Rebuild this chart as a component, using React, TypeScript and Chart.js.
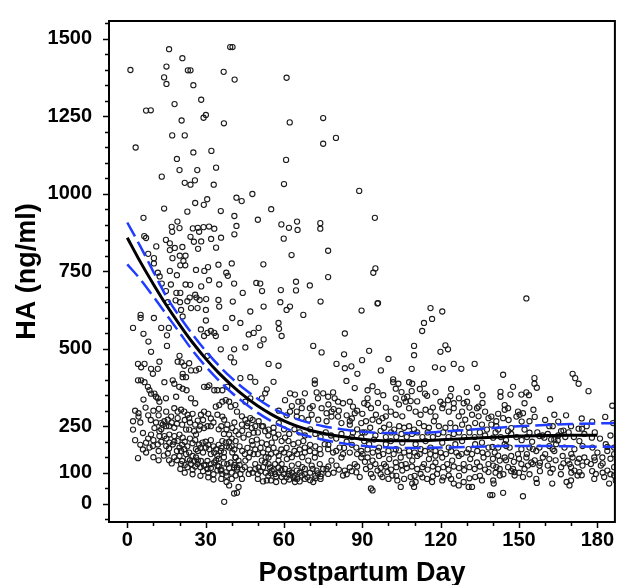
import { useEffect, useRef } from 'react';
import { Chart, registerables } from 'chart.js';

Chart.register(...registerables);

// ---- axis ticks ----
const xTickValues = [0, 30, 60, 90, 120, 150, 180];
const yTickValues = [0, 100, 250, 500, 750, 1000, 1250, 1500];
const xMinorStep = 10;
const yMinorStep = 50;

// ---- fitted curve (ng/ml by postpartum day) ----
const fitDays = [0, 5, 10, 15, 20, 25, 30, 35, 40, 45, 50, 55, 60, 65, 70, 75, 80, 90, 100, 110, 120, 130, 140, 150, 160, 170, 180];
const fitHA = [858, 780, 708, 640, 578, 520, 468, 422, 382, 346, 315, 289, 267, 250, 237, 227, 219, 208, 203, 203, 206, 210, 214, 218, 220, 221, 221];

// ---- confidence band ----
const bandDays = [0, 5, 10, 15, 20, 25, 30, 35, 40, 45, 50, 55, 60, 65, 70, 75, 80, 90, 100, 110, 120, 130, 140, 150, 160, 170, 180, 187];
const bandUpper = [907, 830, 748, 668, 604, 546, 493, 446, 405, 369, 338, 311, 290, 273, 260, 250, 243, 232, 228, 228, 232, 238, 244, 250, 254, 257, 259, 260];
const bandLower = [772, 724, 668, 610, 552, 494, 443, 398, 358, 324, 293, 267, 246, 229, 216, 206, 198, 187, 181, 180, 181, 183, 185, 186, 186, 185, 184, 183];

// ---- observations [day, HA] ----
const obsHigh: number[][] = [
  [1.2, 1399], [3.2, 1149], [6.2, 922], [7.2, 1268], [9, 1269], [6.5, 863], [7.2, 857], [8, 806], [10.2, 792], [10.2, 775],
  [11.1, 830], [11.7, 745], [12.4, 733], [13.2, 1055], [14.1, 952], [14.1, 1375], [15, 1410], [15, 1354], [16, 1466], [16.3, 751],
  [16.7, 707], [17, 893], [17.2, 877], [17.3, 792], [18.1, 1289], [17.2, 1188], [18.2, 825], [19, 1112], [19.2, 910], [20, 1076],
  [20, 889], [20.8, 1236], [21.1, 1437], [21.1, 828], [21.5, 783], [22, 1188], [22, 1035], [23.2, 1398], [24.2, 1398], [23, 942],
  [24.2, 1029], [24.2, 861], [25.3, 1350], [25.3, 1133], [25.9, 1043], [26, 970], [26.8, 1076], [27.1, 822], [27.5, 877], [28.3, 1303],
  [29.2, 1245], [30.1, 1254], [29.3, 964], [30.6, 982], [29.2, 892], [31.3, 894], [32.2, 1138], [33.1, 1029], [33.3, 887], [34, 1084],
  [32.1, 854], [35.8, 944], [36.9, 1393], [37, 1227], [39.4, 1473], [40.3, 1473], [41.1, 1368], [41.8, 987], [43.8, 976], [41.8, 896],
  [41, 928], [47.9, 999], [50, 916], [55.1, 950], [60, 1031], [61, 1374], [60.8, 1109], [62.2, 1230], [59, 901], [59.9, 855],
  [61.9, 890], [65, 910], [65.2, 883], [62.9, 802], [73.9, 905], [73.9, 887], [75, 1244], [75, 1161], [76.9, 816], [79.9, 1180],
  [88.8, 1009], [94.8, 922], [94.2, 745], [95, 759], [96, 647], [152.8, 662], [58.8, 689], [50.9, 710], [51.6, 686], [52.1, 772],
  [44.2, 680], [40.9, 710], [40, 775], [37.9, 745], [38.5, 735], [34.9, 771], [35.2, 707], [29.5, 751], [30.9, 763], [31.3, 721],
  [26.3, 754], [26.5, 665], [26, 674], [23.9, 665], [24.1, 706], [22.3, 707], [20.3, 769], [22.2, 769], [19, 737], [18.8, 680],
  [20.3, 680], [18.5, 656], [20.2, 650], [23, 653], [16.3, 840], [16.3, 818], [14.8, 851], [13.2, 710], [14.8, 686], [15.5, 650],
  [69.9, 704], [76.9, 731], [64.6, 716], [64.6, 688], [58.6, 650], [49.4, 712], [25.1, 888], [27, 890], [25.5, 845], [28.3, 846],
  [20.1, 800], [22.3, 800], [35.9, 858], [34, 826], [41, 869], [28.3, 701], [27.7, 657], [30.2, 660], [34.9, 657], [40.4, 652],
  [74, 652], [89.7, 623], [89.9, 463], [83.9, 396], [87.1, 373], [93.9, 379],
];

const obsDays0to42: number[][] = [
  [5.1, 609], [5.1, 599], [2.2, 567], [10.2, 599], [13, 567], [15.9, 567], [6.2, 548], [8.1, 523], [9.1, 490], [15.2, 543],
  [15.2, 509], [20.6, 625], [21.2, 604], [24.4, 631], [26.9, 631], [30.1, 625], [30.1, 591], [35.2, 636], [37.7, 567], [40.2, 599],
  [29.4, 541], [30.7, 551], [32, 557], [33.3, 551], [33.9, 541], [28.2, 562], [30.7, 477], [35.8, 498], [40.9, 498], [39.6, 472],
  [40.9, 456], [4.1, 451], [5.3, 440], [6.6, 451], [9.1, 435], [9.8, 419], [11.7, 435], [12.3, 458], [4.1, 398], [5.3, 398],
  [6.6, 392], [7.9, 377], [8.5, 366], [9.1, 355], [10.4, 355], [11, 345], [11.7, 340], [12.3, 329], [6.2, 336], [14.2, 392],
  [17.4, 398], [18, 387], [20, 477], [19.3, 458], [20.8, 456], [21.8, 445], [23.7, 453], [21.2, 419], [21.2, 408], [22.5, 408],
  [21.2, 371], [22.7, 366], [18.7, 345], [24.4, 430], [26.3, 430], [27.5, 435], [29.4, 377], [30.7, 377], [31.4, 382], [33.3, 366],
  [34.5, 366], [36.4, 366], [38.3, 377], [26, 324], [24.4, 340], [19.9, 377], [14.8, 340], [12.1, 306], [14.9, 297], [18, 308],
  [19.3, 297], [20.6, 303], [21.8, 297], [23.1, 287], [23.7, 276], [19.3, 276], [16.8, 281], [15.5, 271], [14.2, 266], [12.9, 260],
  [13.6, 255], [14.9, 250], [2.2, 266], [2.2, 239], [4.3, 292], [4.3, 281], [6, 228], [9.1, 223], [10.4, 244], [12.3, 234],
  [12.3, 218], [14.2, 218], [16.1, 223], [18, 218], [20, 223], [21.2, 213], [22.5, 239], [23.7, 239], [25.6, 234], [26.3, 223],
  [27.5, 239], [29.4, 244], [30.7, 250], [32, 250], [28.2, 287], [29.4, 297], [33.9, 313], [35.2, 318], [36.4, 329], [37.7, 334],
  [39, 329], [39.6, 313], [34.5, 287], [36.4, 281], [37.1, 271], [38.3, 255], [40.2, 244], [41.5, 234], [39, 223], [7.2, 197],
  [8.5, 181], [9.8, 186], [11.7, 191], [14.9, 186], [16.1, 197], [17.4, 191], [19.3, 202], [20, 181], [20.6, 170], [21.8, 176],
  [22.5, 160], [23.7, 165], [25, 154], [26.3, 176], [27.5, 191], [28.8, 197], [30.1, 181], [31.4, 176], [32, 160], [33.3, 165],
  [34.5, 154], [35.8, 170], [36.4, 202], [37.7, 197], [39, 181], [40.2, 165], [41.5, 202], [41.5, 149], [4.1, 147], [7.2, 165],
  [15.5, 162], [20, 154], [20.6, 128], [20.3, 112], [23.1, 144], [24.4, 128], [25.6, 138], [26.9, 128], [28.2, 138], [29.4, 123],
  [30.7, 112], [32, 128], [33.3, 133], [34.5, 123], [35.8, 107], [36.4, 96], [37.7, 101], [38.3, 128], [39.6, 133], [40.9, 117],
  [41.5, 91], [39, 59], [40.9, 33], [37.1, 6], [34.5, 107], [30.7, 138], [26.3, 149],
  [3, 300], [5, 262], [7, 310], [8, 285], [9, 270], [10, 300], [11, 262], [12, 285], [13, 240], [16, 250],
  [17, 262], [18, 245], [19, 258], [21, 255], [22, 270], [24, 262], [25, 290], [26, 255], [27, 268], [28, 250],
  [29, 270], [31, 290], [32, 275], [33, 262], [35, 240], [36, 250], [37, 225], [38, 240], [40, 210], [41, 262],
  [3, 205], [5, 190], [6, 175], [8, 210], [10, 205], [12, 170], [13, 200], [15, 210], [16, 178], [18, 200],
  [19, 170], [21, 190], [22, 200], [23, 185], [24, 210], [25, 195], [26, 205], [27, 170], [28, 180], [29, 165],
  [30, 200], [31, 190], [32, 205], [33, 185], [34, 175], [35, 190], [36, 180], [37, 165], [38, 185], [39, 200],
  [40, 185], [41, 175], [10, 150], [12, 140], [14, 155], [16, 140], [17, 130], [18, 150], [19, 140], [21, 138],
  [22, 125], [23, 118], [24, 140], [25, 110], [26, 120], [27, 140], [28, 118], [29, 105], [30, 125], [31, 100],
  [32, 115], [33, 95], [34, 140], [35, 120], [36, 110], [37, 130], [38, 90], [39, 115], [40, 100], [41, 125],
  [42, 110], [22, 100], [28, 90], [31, 85], [33, 78], [36, 80], [38, 70], [40, 80], [25, 95], [35, 145], [37, 150],
];

const obsDays42to90: number[][] = [
  [47.1, 620], [52.2, 636], [61, 625], [62.3, 636], [67.4, 609], [43.3, 583], [46.5, 546], [48.4, 551], [50.3, 567], [52.2, 530],
  [50.9, 511], [45.2, 504], [57.9, 583], [58.1, 564], [59.1, 541], [71.2, 509], [74.4, 488], [83.3, 549], [83, 482], [80.1, 451],
  [83.3, 437], [85.8, 443], [88.1, 419], [54.1, 451], [57.9, 445], [43.3, 405], [47.1, 408], [49, 393], [56, 393], [53.4, 369],
  [52.8, 356], [51.5, 340], [47.1, 340], [45.2, 329], [71.8, 398], [71.8, 387], [72.5, 359], [68, 356], [62.3, 356], [64.2, 352],
  [60.4, 334], [65.5, 329], [66.8, 308], [64.9, 297], [69.9, 308], [70.6, 287], [75, 356], [76.9, 345], [78.8, 359], [79.4, 340],
  [80.7, 329], [82.6, 324], [85.2, 329], [86.4, 313], [87.1, 292], [74.4, 308], [76.3, 292], [78.2, 297], [78.2, 281], [80.7, 281],
  [76.3, 266], [73.1, 271], [69.3, 271], [66.8, 276], [64.9, 281], [62.3, 297], [85.2, 266], [85.2, 255], [89.6, 260], [82, 260],
  [86.4, 229], [89.6, 213], [41.4, 318], [42, 297], [43.9, 282], [45.2, 271], [47.1, 276], [43.9, 255], [45.8, 250], [47.7, 244],
  [49, 250], [50.3, 266], [51.5, 250], [52.8, 234], [54.1, 239], [56, 229], [48.4, 229], [46.5, 223], [44.5, 213], [42.6, 223],
  [49.6, 207], [47.7, 202], [51.5, 197], [53.4, 192], [55.3, 197], [56.6, 213], [57.9, 223], [59.1, 202], [60.4, 213], [61.7, 202],
  [63.6, 192], [65.5, 197], [67.4, 202], [68, 181], [69.9, 170], [71.8, 165], [73.7, 176], [75.6, 192], [76.9, 176], [78.8, 165],
  [81.3, 181], [82.6, 160], [85.2, 165], [87.7, 181], [89.6, 170], [41.4, 149], [42.6, 139], [42, 117], [43.3, 96], [45.2, 139],
  [46.5, 149], [48.4, 160], [49, 128], [50.3, 117], [51.5, 139], [52.8, 133], [54.1, 149], [54.1, 128], [54.7, 117], [55.3, 107],
  [56.6, 128], [56.6, 96], [57.9, 139], [57.9, 117], [59.1, 128], [59.1, 86], [60.4, 112], [61.1, 144], [61.7, 96], [63, 123],
  [63.6, 86], [64.9, 107], [65.5, 128], [66.8, 91], [68, 112], [69.3, 139], [70.6, 123], [71.8, 149], [72.5, 107], [73.7, 128],
  [74.4, 96], [76.3, 112], [78.2, 139], [80.1, 123], [82, 149], [83.3, 107], [85.2, 117], [87.1, 128], [87.7, 101], [89, 86],
  [89.6, 149], [42.6, 54], [42, 35], [53.4, 75], [64.2, 70], [43.9, 80], [46.5, 96], [71.2, 70], [76.9, 96], [82.6, 91],
  [43, 185], [44, 170], [45, 160], [46, 180], [47, 165], [48, 190], [49, 175], [50, 160], [51, 180], [52, 165],
  [53, 150], [54, 175], [55, 160], [56, 180], [57, 165], [58, 155], [59, 175], [60, 165], [61, 180], [62, 160],
  [63, 150], [64, 170], [65, 160], [66, 175], [67, 150], [68, 165], [70, 190], [72, 185], [74, 160], [77, 190],
  [80, 170], [83, 180], [86, 190], [88, 160], [43, 125], [44, 110], [45, 118], [47, 110], [48, 100], [49, 112],
  [50, 95], [51, 105], [52, 118], [53, 100], [54, 90], [55, 98], [56, 110], [57, 88], [58, 100], [59, 108],
  [60, 95], [61, 85], [62, 105], [63, 100], [64, 90], [65, 80], [66, 100], [67, 118], [68, 95], [69, 85],
  [70, 100], [71, 112], [72, 90], [73, 98], [74, 80], [75, 112], [77, 120], [79, 100], [81, 110], [84, 95],
  [86, 105], [88, 120], [50, 80], [52, 72], [55, 75], [57, 70], [60, 72], [62, 78], [64, 82], [66, 72],
  [68, 80], [70, 76], [72, 82], [74, 88], [44, 235], [46, 260], [48, 270], [50, 230], [52, 250], [54, 220],
  [56, 245], [58, 260], [60, 240], [62, 225], [64, 240], [66, 230], [68, 220], [70, 240], [72, 225], [74, 215],
  [76, 230], [78, 220], [80, 210], [82, 225], [84, 200], [86, 215], [88, 240], [90, 230], [58, 300], [61, 285],
  [63, 315], [67, 330], [71, 315], [73, 340], [77, 320], [79, 305], [81, 300], [84, 285], [86, 275], [88, 300],
  [90, 290],
];

const obsDays90to139: number[][] = [
  [95.8, 646], [116.1, 631], [120.6, 620], [116.7, 596], [113.6, 583], [112.9, 557], [109.8, 509], [109.8, 479], [121.8, 511], [122.8, 498],
  [119.9, 490], [92.6, 493], [100, 467], [108.9, 435], [117.8, 440], [120.8, 435], [125, 451], [127.9, 435], [133, 451], [97.1, 430],
  [133.9, 374], [92, 366], [95.8, 361], [101.8, 401], [101.8, 392], [103.8, 387], [107.9, 392], [109.1, 387], [102.8, 371], [108.9, 363],
  [113.6, 387], [114, 355], [114.8, 348], [102.8, 340], [106, 340], [106.6, 329], [107.2, 345], [108.5, 331], [119.9, 329], [122.8, 334],
  [123.7, 347], [125, 324], [128.8, 324], [130.1, 329], [134.5, 313], [133.9, 308], [90.7, 324], [92, 319], [93.3, 308], [95.2, 287],
  [97.7, 276], [99, 282], [100.9, 297], [102.8, 287], [105.3, 282], [107.9, 308], [110.4, 297], [112.3, 287], [114.2, 303], [116.1, 297],
  [118, 282], [120.6, 308], [123.1, 297], [125, 308], [126.9, 282], [128.2, 297], [129.4, 271], [132, 287], [134.5, 282], [137, 297],
  [138.3, 276], [91.4, 266], [93.9, 271], [96.4, 266], [98.3, 245], [100.3, 255], [102.2, 239], [104.1, 250], [106, 245], [107.9, 250],
  [109.8, 239], [111.7, 260], [113.6, 250], [115.5, 245], [117.4, 266], [119.3, 250], [121.8, 245], [123.7, 260], [125.6, 245], [128.2, 255],
  [130.7, 245], [133.2, 260], [135.8, 255], [137.7, 239], [90.7, 202], [92.6, 192], [94.5, 207], [96.4, 181], [99, 192], [100.9, 202],
  [102.8, 176], [105.3, 197], [107.9, 170], [110.4, 192], [112.3, 176], [114.2, 202], [116.1, 181], [118, 170], [120.6, 197], [123.1, 181],
  [125.6, 192], [128.2, 202], [130.7, 176], [133.2, 192], [135.8, 197], [138.3, 181], [90.1, 160], [92, 149], [93.9, 139], [96.4, 154],
  [98.3, 128], [100.3, 144], [102.8, 133], [104.7, 149], [106.6, 128], [109.1, 139], [111, 154], [113.6, 128], [115.5, 144], [118, 133],
  [120.6, 149], [122.5, 128], [124.4, 139], [126.9, 154], [128.8, 128], [131.3, 144], [133.9, 133], [136.4, 149], [138.3, 128], [91.4, 112],
  [93.3, 96], [95.8, 107], [97.7, 86], [99.6, 102], [101.5, 91], [103.4, 75], [105.3, 107], [108.5, 86], [110.4, 70], [112.3, 96],
  [114.8, 80], [116.7, 70], [118.6, 96], [120.6, 75], [123.1, 91], [125, 65], [126.9, 59], [128.8, 70], [130.7, 54], [133.2, 86],
  [135.8, 75], [138.3, 102], [93.3, 49], [93.9, 43], [104.7, 54], [109.1, 65], [109.8, 54], [132, 54], [138.9, 28],
  [91, 230], [93, 245], [95, 220], [97, 235], [99, 215], [101, 230], [103, 215], [105, 225], [107, 215], [109, 225],
  [111, 230], [113, 215], [115, 230], [117, 215], [119, 225], [121, 230], [123, 215], [125, 225], [127, 230], [129, 215],
  [131, 230], [133, 215], [135, 230], [137, 220], [92, 175], [94, 165], [96, 170], [98, 160], [100, 170], [102, 160],
  [104, 172], [106, 165], [108, 155], [110, 165], [112, 160], [114, 170], [116, 160], [118, 155], [120, 165], [122, 160],
  [124, 170], [126, 165], [128, 160], [130, 165], [132, 160], [134, 170], [136, 165], [138, 160], [91, 135], [93, 120],
  [95, 128], [97, 115], [99, 120], [101, 110], [103, 118], [105, 125], [107, 115], [109, 120], [111, 112], [113, 118],
  [115, 110], [117, 120], [119, 112], [121, 118], [123, 110], [125, 120], [127, 115], [129, 108], [131, 118], [133, 112],
  [135, 120], [137, 110], [94, 85], [97, 95], [100, 80], [103, 90], [106, 80], [110, 90], [113, 85], [117, 88],
  [121, 85], [124, 80], [127, 90], [131, 82], [135, 90], [92, 340], [96, 325], [99, 310], [104, 320], [111, 330],
  [117, 310], [121, 320], [127, 340], [131, 310], [136, 325], [98, 350], [105, 360], [112, 370], [118, 360], [124, 370],
  [130, 360], [136, 350],
];

const obsDays139to187: number[][] = [
  [143.9, 416], [142.9, 361], [142.9, 345], [147.7, 377], [146.7, 352], [150.9, 352], [152.8, 359], [153.8, 350], [155.9, 405], [156.8, 374],
  [155.9, 387], [161.9, 337], [170.5, 419], [171.5, 405], [172.8, 387], [176.6, 363], [185.7, 316], [144.5, 318], [145.8, 308], [144.5, 303],
  [149.6, 297], [150.2, 287], [149, 281], [152.1, 324], [155.5, 303], [139.4, 281], [141.3, 266], [143.9, 276], [151.5, 292], [154, 266],
  [163.5, 287], [139.4, 255], [141.3, 250], [142, 239], [145.8, 234], [147, 244], [152.1, 239], [154, 229], [157.8, 218], [161.6, 250],
  [162.9, 250], [166.1, 234], [167, 236], [169.9, 250], [172.8, 242], [174.1, 242], [175.9, 250], [177.9, 213], [167.7, 215], [164.8, 204],
  [163.5, 207], [162.3, 207], [159.7, 213], [140.1, 213], [139.8, 183], [142, 181], [144.5, 192], [145.1, 186], [146.4, 181], [150.9, 176],
  [154, 181], [155.3, 176], [157.8, 181], [161.6, 186], [162.9, 176], [164.2, 192], [167.4, 181], [171.2, 176], [173.1, 202], [174.3, 186],
  [178.1, 181], [183.2, 192], [183.8, 183], [186.4, 181], [140.7, 165], [142.6, 139], [144.5, 149], [147, 154], [149.6, 160], [152.8, 149],
  [154.7, 133], [156.6, 170], [159.1, 149], [161.6, 144], [163.5, 170], [166.7, 154], [168.6, 139], [170.5, 149], [172.4, 133], [175, 149],
  [178.8, 149], [180, 165], [181.9, 149], [183.8, 170], [186.4, 160], [140.1, 123], [141.3, 118], [142.6, 112], [145.8, 118], [147.7, 112],
  [148.3, 102], [150.9, 128], [152.1, 112], [153.4, 123], [155.3, 128], [157.8, 123], [161, 123], [162.9, 112], [166.1, 118], [169.3, 128],
  [169.9, 118], [171.2, 107], [173.1, 102], [174.3, 123], [177.5, 128], [179.4, 96], [181.3, 123], [183.8, 107], [186.4, 118], [186.4, 91],
  [140.1, 75], [140.3, 65], [142.6, 91], [148.3, 91], [151.5, 86], [156.6, 80], [156.8, 67], [162.7, 65], [168.2, 70], [169.3, 59],
  [169.9, 75], [172.4, 91], [178.8, 80], [182.6, 86], [184.5, 65], [187, 75], [143.9, 35], [151.5, 24], [139.8, 28],
  [141, 230], [143, 215], [145, 205], [147, 225], [149, 215], [151, 205], [153, 215], [155, 200], [157, 230], [159, 220],
  [161, 225], [165, 220], [169, 230], [171, 215], [175, 225], [179, 230], [181, 210], [185, 220], [140, 145], [142, 155],
  [145, 140], [148, 135], [150, 145], [153, 160], [156, 140], [158, 132], [160, 160], [164, 140], [167, 130], [170, 160],
  [173, 145], [176, 135], [179, 140], [182, 130], [185, 145], [141, 100], [144, 95], [147, 105], [150, 100], [154, 95],
  [158, 105], [162, 100], [166, 95], [170, 100], [174, 92], [178, 105], [182, 100], [185, 95], [142, 290], [146, 270],
  [151, 265], [156, 280], [160, 270], [165, 265], [168, 285], [174, 275], [178, 265], [183, 280], [186, 260],
];

const toXY = (arr: number[][]) => arr.map(([x, y]) => ({ x, y }));

export default function App() {
  const canvasRef = useRef<HTMLCanvasElement | null>(null);

  useEffect(() => {
    document.body.style.margin = '0';
    const canvas = canvasRef.current;
    if (!canvas) return;

    const observations = [
      ...obsHigh, ...obsDays0to42, ...obsDays42to90, ...obsDays90to139, ...obsDays139to187,
    ];

    const framePlugin = {
      id: 'frameAndTicks',
      afterDraw(chart: any) {
        const { ctx, chartArea } = chart;
        const xs = chart.scales.x;
        const ys = chart.scales.y;
        ctx.save();
        ctx.strokeStyle = '#000';
        ctx.lineWidth = 1.5;
        ctx.beginPath();
        for (let v = 0; v <= 180; v += xMinorStep) {
          const px = Math.round(xs.getPixelForValue(v)) + 0.5;
          const len = xTickValues.includes(v) ? 6 : 4;
          ctx.moveTo(px, chartArea.bottom);
          ctx.lineTo(px, chartArea.bottom + len);
        }
        for (let v = -50; v <= 1550; v += yMinorStep) {
          const py = Math.round(ys.getPixelForValue(v)) + 0.5;
          if (py < chartArea.top || py > chartArea.bottom) continue;
          const len = yTickValues.includes(v) ? 6 : 4;
          ctx.moveTo(chartArea.left, py);
          ctx.lineTo(chartArea.left - len, py);
        }
        ctx.stroke();
        ctx.lineWidth = 2;
        ctx.strokeRect(chartArea.left, chartArea.top, chartArea.right - chartArea.left, chartArea.bottom - chartArea.top);
        ctx.restore();
      },
    };

    const tickFont = { family: "'Liberation Sans Narrow', 'Liberation Sans', Arial, sans-serif", size: 20, weight: 'bold' as const };
    const titleFont = { family: "'Liberation Sans', Arial, sans-serif", size: 27, weight: 'bold' as const, lineHeight: 1 };

    const chart = new Chart(canvas, {
      type: 'scatter',
      data: {
        datasets: [
          {
            label: 'Fit',
            data: fitDays.map((x, i) => ({ x, y: fitHA[i] })),
            showLine: true,
            borderColor: '#000',
            borderWidth: 3,
            pointRadius: 0,
            cubicInterpolationMode: 'monotone',
            order: 0,
          } as any,
          {
            label: 'Upper',
            data: bandDays.map((x, i) => ({ x, y: bandUpper[i] })),
            showLine: true,
            borderColor: '#1f3cff',
            borderWidth: 2.5,
            borderDash: [16, 6],
            pointRadius: 0,
            cubicInterpolationMode: 'monotone',
            order: 1,
          } as any,
          {
            label: 'Lower',
            data: bandDays.map((x, i) => ({ x, y: bandLower[i] })),
            showLine: true,
            borderColor: '#1f3cff',
            borderWidth: 2.5,
            borderDash: [16, 6],
            pointRadius: 0,
            cubicInterpolationMode: 'monotone',
            order: 1,
          } as any,
          {
            label: 'HA',
            data: toXY(observations),
            pointRadius: 2.6,
            pointBorderWidth: 1.1,
            pointBorderColor: '#1c1c1c',
            pointBackgroundColor: 'rgba(0,0,0,0)',
            order: 2,
          } as any,
        ],
      },
      options: {
        animation: false,
        responsive: false,
        devicePixelRatio: 1,
        layout: { padding: { top: 12, right: 2, left: 0, bottom: 0 } },
        plugins: { legend: { display: false }, tooltip: { enabled: false } },
        scales: {
          x: {
            type: 'linear',
            min: -7,
            max: 186.7,
            grid: { display: false },
            border: { display: false },
            afterBuildTicks: (scale: any) => {
              scale.ticks = xTickValues.map((value) => ({ value }));
            },
            afterFit: (scale: any) => {
              scale.height = 63;
            },
            ticks: { color: '#000', font: tickFont, padding: -2, maxRotation: 0, autoSkip: false, callback: (v: any) => String(v) },
            title: { display: true, text: 'Postpartum Day', color: '#000', font: titleFont, padding: { top: 0, bottom: -2 } },
          },
          y: {
            type: 'linear',
            min: -59,
            max: 1557,
            grid: { display: false },
            border: { display: false },
            afterBuildTicks: (scale: any) => {
              scale.ticks = yTickValues.map((value) => ({ value }));
            },
            afterFit: (scale: any) => {
              scale.width = 109;
            },
            ticks: { color: '#000', font: tickFont, padding: 9, autoSkip: false, callback: (v: any) => String(v) },
            title: { display: true, text: 'HA (ng/ml)', color: '#000', font: titleFont, padding: { top: 14, bottom: 0 } },
          },
        },
      },
      plugins: [framePlugin],
    } as any);

    return () => {
      chart.destroy();
    };
  }, []);

  return (
    <div style={{ width: 620, height: 585 }}>
      <canvas ref={canvasRef} width={620} height={585} style={{ display: 'block' }} />
    </div>
  );
}
